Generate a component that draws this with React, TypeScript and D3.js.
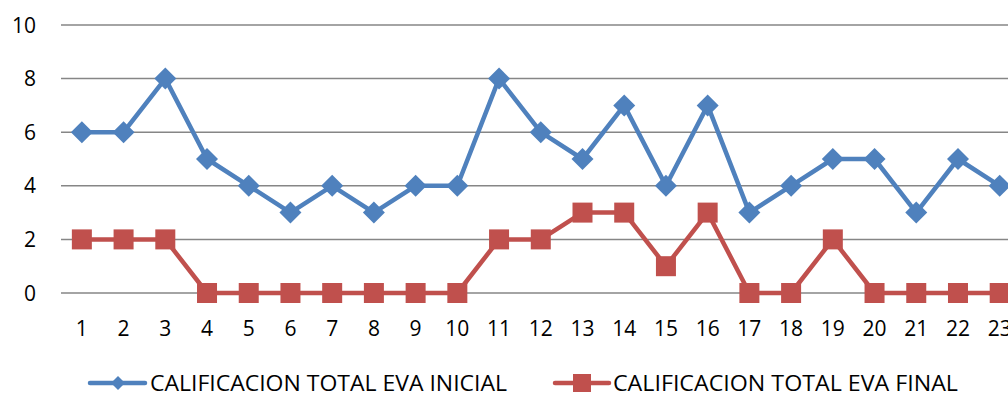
import React from "react";
import * as d3 from "d3";

const categories = Array.from({ length: 23 }, (_, i) => String(i + 1));
const inicial = [6, 6, 8, 5, 4, 3, 4, 3, 4, 4, 8, 6, 5, 7, 4, 7, 3, 4, 5, 5, 3, 5, 4];
const final = [2, 2, 2, 0, 0, 0, 0, 0, 0, 0, 2, 2, 3, 3, 1, 3, 0, 0, 2, 0, 0, 0, 0];
const yTicks = [0, 2, 4, 6, 8, 10];
const seriesNames = ["CALIFICACION TOTAL EVA INICIAL", "CALIFICACION TOTAL EVA FINAL"];

const W = 1008, H = 394;
const BLUE = "#4F81BD", RED = "#C0504D";
const FONT = "'Open Sans', sans-serif";

export default function App() {
  const step = 41.72;
  const left = 61;
  const x = (i: number) => left + step * (i + 0.5);
  const y = d3.scaleLinear().domain([0, 10]).range([293, 25]);
  const line = d3.line<number>().x((_, i) => x(i)).y((d) => y(d));
  const diamond = (cx: number, cy: number, r: number) =>
    `M${cx},${cy - r}L${cx + r},${cy}L${cx},${cy + r}L${cx - r},${cy}Z`;

  return (
    <svg width={W} height={H} style={{ position: "absolute", left: 0, top: 0, background: "#fff" }}>
      <rect width={W} height={H} fill="#fff" />
      {yTicks.map((t) => (
        <g key={t}>
          <line x1={left} x2={W} y1={y(t)} y2={y(t)} stroke="#868686" strokeWidth={1.5} />
          <text x={36} y={y(t)} dy="0.36em" textAnchor="end" fontFamily={FONT} fontSize={21} fill="#000">
            {t}
          </text>
        </g>
      ))}
      {categories.map((c, i) => (
        <text key={c} x={x(i)} y={336} textAnchor="middle" fontFamily={FONT} fontSize={21} fill="#000">
          {c}
        </text>
      ))}
      <path d={line(inicial) || ""} fill="none" stroke={BLUE} strokeWidth={4.5} strokeLinejoin="round" />
      {inicial.map((v, i) => (
        <path key={i} d={diamond(x(i), y(v), 11)} fill={BLUE} />
      ))}
      <path d={line(final) || ""} fill="none" stroke={RED} strokeWidth={4.5} strokeLinejoin="round" />
      {final.map((v, i) => (
        <rect key={i} x={x(i) - 10} y={y(v) - 10} width={20} height={20} fill={RED} />
      ))}
      {/* Legend */}
      <g>
        <line x1={90} x2={145} y1={383} y2={383} stroke={BLUE} strokeWidth={4.5} strokeLinecap="round" />
        <path d={diamond(118, 383, 7)} fill={BLUE} />
        <text x={150} y={383} dy="0.36em" fontFamily={FONT} fontSize={22} fill="#000"
          textLength={357} lengthAdjust="spacingAndGlyphs">
          {seriesNames[0]}
        </text>
        <line x1={555} x2={609} y1={383} y2={383} stroke={RED} strokeWidth={4.5} strokeLinecap="round" />
        <rect x={573} y={374} width={18} height={18} fill={RED} />
        <text x={613} y={383} dy="0.36em" fontFamily={FONT} fontSize={22} fill="#000"
          textLength={345} lengthAdjust="spacingAndGlyphs">
          {seriesNames[1]}
        </text>
      </g>
    </svg>
  );
}
